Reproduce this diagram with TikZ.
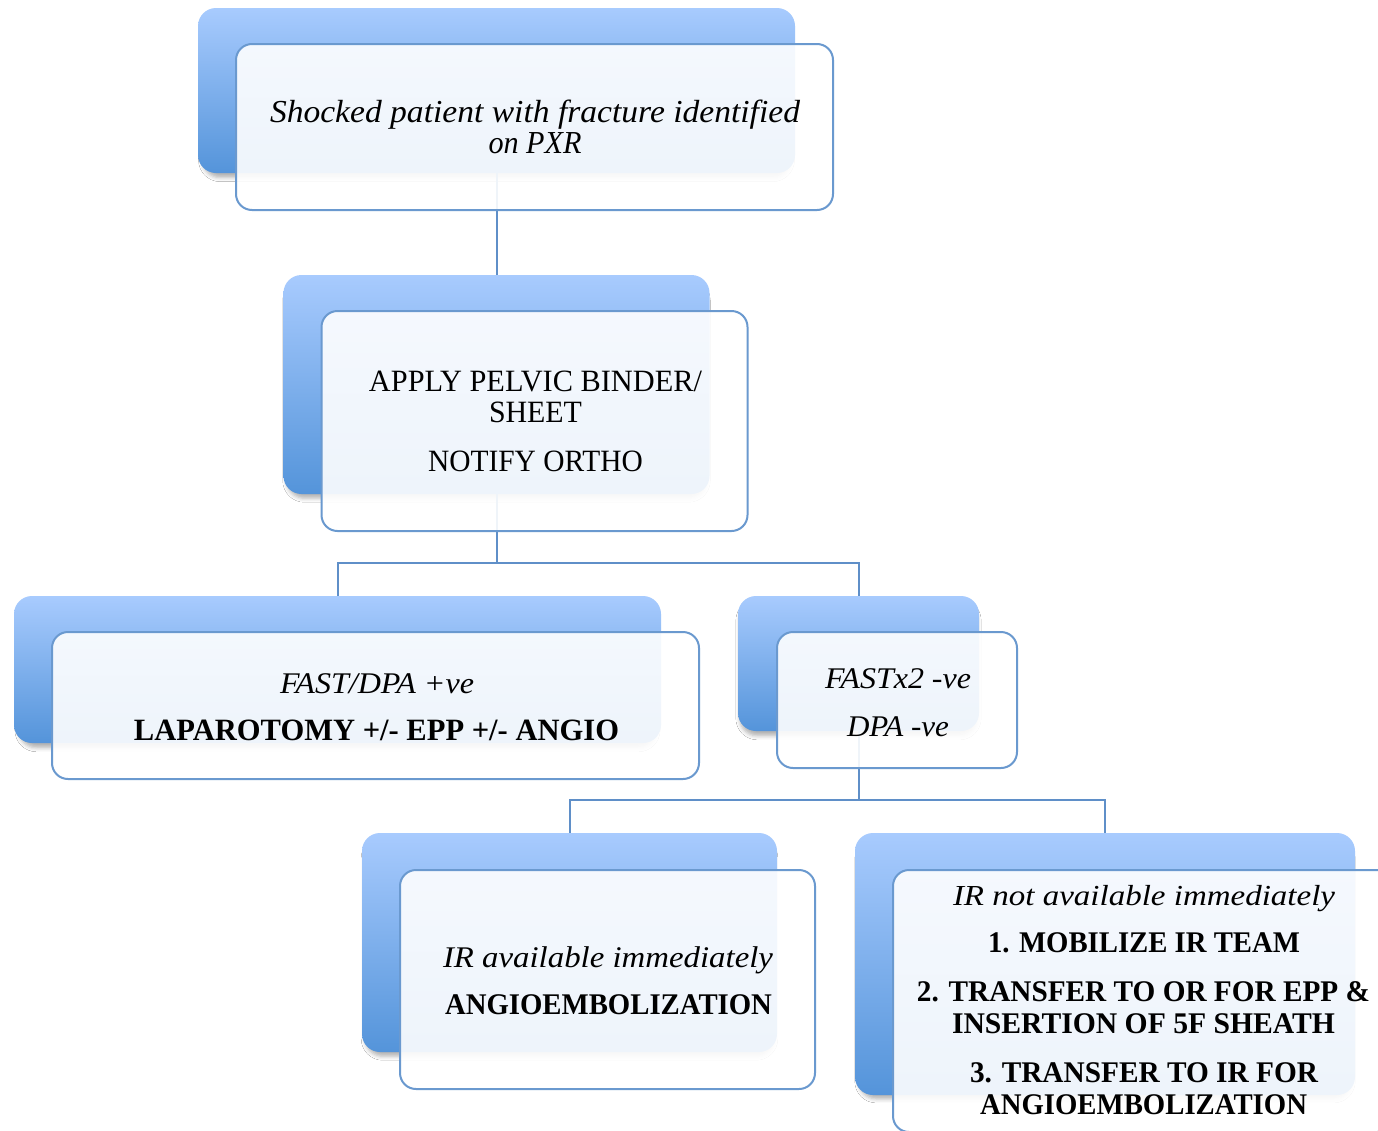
\documentclass[tikz,border=0pt]{standalone}
\usepackage{fontspec}
\setmainfont{Liberation Serif}
\usepackage{graphicx}
\usetikzlibrary{shadows.blur}
\definecolor{gtop}{HTML}{A8CBFE}
\definecolor{gbot}{HTML}{5494DA}
\definecolor{edgeblue}{HTML}{6A99CF}
\definecolor{connblue}{HTML}{5F8FC8}
\newcommand\fitline[2]{\resizebox{#1pt}{\height}{#2}}
\begin{document}
\begin{tikzpicture}[x=1pt,y=-1pt,
 backbox/.style={rounded corners=18pt, top color=gtop, bottom color=gbot, draw=none, inner sep=0pt,
   blur shadow={shadow xshift=0pt, shadow yshift=-6pt, shadow scale=0.985, shadow blur radius=4pt, shadow opacity=30}},
 frontbox/.style={rounded corners=16pt, fill=white, fill opacity=0.9, draw=edgeblue, line width=2pt, inner sep=0pt},
 link/.style={draw=connblue, line width=2pt},
 txt/.style={inner sep=0pt, anchor=base}]
\fill[white] (0,0) rectangle (1378,1130);
\useasboundingbox (0,0) rectangle (1378,1130);
\clip (0,0) rectangle (1378,1130);
% back boxes
\node[backbox, minimum width=597pt, minimum height=165pt] (b1) at (496.5,90.5) {};
\node[backbox, minimum width=426pt, minimum height=219pt] (b2) at (496.5,384.5) {};
\node[backbox, minimum width=647pt, minimum height=147pt] (b3) at (337.5,669.5) {};
\node[backbox, minimum width=241pt, minimum height=135pt] (b4) at (858.5,663.5) {};
\node[backbox, minimum width=415pt, minimum height=219pt] (b5) at (569.5,942.5) {};
\node[backbox, minimum width=500pt, minimum height=262pt] (b6) at (1105,964) {};
% connectors
\draw[link] (b1.south) -- (b2.north);
\coordinate (j2) at (496.5,563);
\draw[link] (b2.south) -- (j2) -| (b3.north);
\draw[link] (j2) -| (b4.north);
\coordinate (j4) at (858.5,800);
\draw[link] (b4.south) -- (j4) -| (b5.north);
\draw[link] (j4) -| (b6.north);
% front boxes
\node[frontbox, minimum width=597pt, minimum height=166pt] (f1) at (534.5,127) {};
\node[frontbox, minimum width=426pt, minimum height=220pt] (f2) at (534.5,421) {};
\node[frontbox, minimum width=647pt, minimum height=147pt] (f3) at (375.5,705.5) {};
\node[frontbox, minimum width=240pt, minimum height=136pt] (f4) at (897,700) {};
\node[frontbox, minimum width=415pt, minimum height=219pt] (f5) at (607.5,979.5) {};
\node[frontbox, minimum width=500pt, minimum height=262pt] (f6) at (1143,1001) {};
% texts
\node[txt, font=\fontsize{32}{34}\selectfont\itshape] (t1a) at (535,122) {\fitline{530}{Shocked patient with fracture identified}};
\node[txt, font=\fontsize{32}{34}\selectfont\itshape] (t1b) at (535,153) {\fitline{93}{on PXR}};
\node[txt, font=\fontsize{31}{33}\selectfont] (t2a) at (535.5,391) {\fitline{333}{APPLY PELVIC BINDER/}};
\node[txt, font=\fontsize{31}{33}\selectfont] (t2b) at (535.5,422) {\fitline{93}{SHEET}};
\node[txt, font=\fontsize{31}{33}\selectfont] (t2c) at (535.5,471) {\fitline{215}{NOTIFY ORTHO}};
\node[txt, font=\fontsize{30}{32}\selectfont\itshape] (t3a) at (377,693) {\fitline{194}{FAST/DPA +ve}};
\node[txt, font=\fontsize{31}{33}\selectfont\bfseries] (t3b) at (376.5,740) {\fitline{485}{LAPAROTOMY +/- EPP +/- ANGIO}};
\node[txt, font=\fontsize{30}{32}\selectfont\itshape] (t4a) at (898,688) {\fitline{146}{FASTx2 -ve}};
\node[txt, font=\fontsize{30}{32}\selectfont\itshape] (t4b) at (898,736) {\fitline{102}{DPA -ve}};
\node[txt, font=\fontsize{30}{32}\selectfont\itshape] (t5a) at (608,967) {\fitline{330}{IR available immediately}};
\node[txt, font=\fontsize{30}{32}\selectfont\bfseries] (t5b) at (608.5,1014) {\fitline{327}{ANGIOEMBOLIZATION}};
\node[txt, font=\fontsize{29}{31}\selectfont\itshape] (t6a) at (1144,905) {\fitline{382}{IR not available immediately}};
\node[txt, font=\fontsize{30}{32}\selectfont\bfseries] (t6b) at (1144,952) {\fitline{312}{1. MOBILIZE IR TEAM}};
\node[txt, font=\fontsize{30}{32}\selectfont\bfseries] (t6c) at (1143.5,1001) {\fitline{453}{2. TRANSFER TO OR FOR EPP \&}};
\node[txt, font=\fontsize{30}{32}\selectfont\bfseries] (t6d) at (1143.5,1033) {\fitline{383}{INSERTION OF 5F SHEATH}};
\node[txt, font=\fontsize{30}{32}\selectfont\bfseries] (t6e) at (1144,1082) {\fitline{348}{3. TRANSFER TO IR FOR}};
\node[txt, font=\fontsize{30}{32}\selectfont\bfseries] (t6f) at (1143.5,1114) {\fitline{327}{ANGIOEMBOLIZATION}};
\end{tikzpicture}
\end{document}
